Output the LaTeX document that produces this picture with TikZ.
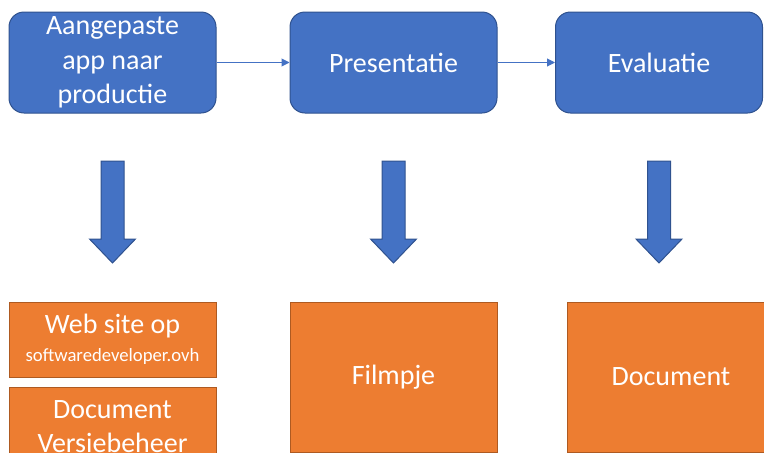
\documentclass[tikz,border=0pt]{standalone}
\usepackage{fontspec}
\setmainfont{Carlito}
\usetikzlibrary{arrows.meta}
\definecolor{bfill}{HTML}{4472C4}
\definecolor{bdraw}{HTML}{2F528F}
\definecolor{ofill}{HTML}{ED7D31}
\definecolor{odraw}{HTML}{AE5A21}
\tikzset{
  bluebox/.style={draw=bdraw, fill=bfill, line width=1pt, rounded corners=15pt,
    minimum width=207pt, minimum height=101pt, inner sep=0pt, text=white,
    align=center, font=\fontsize{28}{34.5}\selectfont},
  orangebox/.style={draw=odraw, fill=ofill, line width=1pt,
    minimum width=207pt, inner sep=0pt, text=white,
    align=center, font=\fontsize{28}{34.5}\selectfont},
  flow/.style={draw=bfill, line width=1pt, -{Triangle[length=8pt,width=8pt]}},
  downarrow/.style={draw=bdraw, fill=bfill, line width=1pt, line join=miter}
}
\begin{document}
\begin{tikzpicture}[x=1pt,y=-1pt]
\useasboundingbox (0,0) rectangle (764,453);
\clip (0,0) rectangle (764,453);
\node[bluebox] (b1) at (112.5,62.5) {Aangepaste\\app naar\\productie};
\node[bluebox] (b2) at (393.5,62.5) {Presentatie};
\node[bluebox] (b3) at (659,62.5) {Evaluatie};
\draw[flow] (b1) -- (b2);
\draw[flow] (b2) -- (b3);
\foreach \cx in {112.5,393.5,659}{
  \draw[downarrow] (\cx-11.5,161) -- (\cx+11.5,161) -- (\cx+11.5,239) -- (\cx+23,239)
    -- (\cx,263) -- (\cx-23,239) -- (\cx-11.5,239) -- cycle;
}
\node[orangebox, minimum height=75pt] (o1) at (112.5,339.5)
  {Web site op\\[-6pt]{\fontsize{18.7}{22}\selectfont softwaredeveloper.ovh}};
\node[orangebox, minimum height=90pt, anchor=north, text depth=0pt] (o2) at (112.5,387) {};
\node[text=white, align=center, font=\fontsize{28}{34.5}\selectfont, anchor=base] (o2t) at (112.5,418.3) {Document};
\node[text=white, align=center, font=\fontsize{28}{34.5}\selectfont, anchor=base] (o2u) at (112.5,452.8) {Versiebeheer};
\node[orangebox, minimum height=150pt] (o3) at (393.5,377) {Filmpje};
\node[orangebox, minimum height=150pt, minimum width=208pt] (o4) at (671,377) {Document};
\end{tikzpicture}
\end{document}
